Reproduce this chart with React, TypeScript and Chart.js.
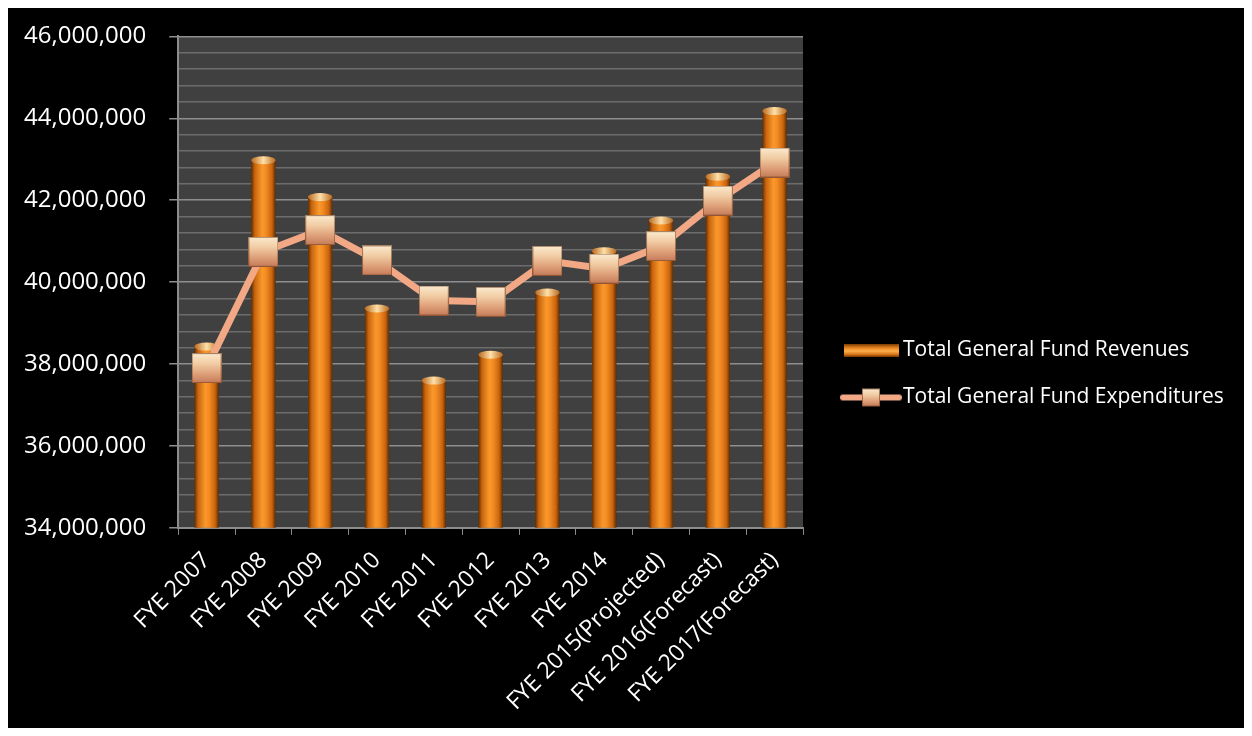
import React, { useEffect, useRef } from 'react';
import { Chart, registerables } from 'chart.js';
Chart.register(...registerables);

const categories = [
  'FYE 2007', 'FYE 2008', 'FYE 2009', 'FYE 2010', 'FYE 2011', 'FYE 2012',
  'FYE 2013', 'FYE 2014', 'FYE 2015(Projected)', 'FYE 2016(Forecast)', 'FYE 2017(Forecast)',
];
const revenues = [38450000, 43000000, 42100000, 39380000, 37620000, 38250000, 39770000, 40780000, 41530000, 42600000, 44200000];
const expenditures = [37900000, 40740000, 41270000, 40530000, 39550000, 39520000, 40520000, 40330000, 40880000, 41990000, 42920000];
const seriesNames = ['Total General Fund Revenues', 'Total General Fund Expenditures'];
const yMin = 34000000;
const yMax = 46000000;
const yMajorStep = 2000000;
const yMinorStep = 400000;

const FONT = "'Open Sans', sans-serif";
const LINE_COLOR = '#F2A884';

function makeMarker(size: number): HTMLCanvasElement {
  const c = document.createElement('canvas');
  c.width = size; c.height = size;
  const g = c.getContext('2d')!;
  const grad = g.createLinearGradient(0, 0, 0, size);
  grad.addColorStop(0, '#FCEBD0');
  grad.addColorStop(0.35, '#F1CCA4');
  grad.addColorStop(0.7, '#DE9F78');
  grad.addColorStop(1, '#C47A58');
  g.fillStyle = grad;
  g.fillRect(0, 0, size, size);
  g.strokeStyle = 'rgba(110,60,30,0.6)';
  g.lineWidth = 1;
  g.strokeRect(0.5, 0.5, size - 1, size - 1);
  return c;
}

function makeLegendLine(): HTMLCanvasElement {
  const c = document.createElement('canvas');
  c.width = 62; c.height = 20;
  const g = c.getContext('2d')!;
  g.strokeStyle = LINE_COLOR;
  g.lineWidth = 6;
  g.lineCap = 'round';
  g.beginPath();
  g.moveTo(3, 10); g.lineTo(59, 10);
  g.stroke();
  const m = makeMarker(18);
  g.drawImage(m, 22, 1);
  return c;
}

function makeLegendBar(): HTMLCanvasElement {
  const c = document.createElement('canvas');
  c.width = 55; c.height = 13;
  const g = c.getContext('2d')!;
  const grad = g.createLinearGradient(0, 0, 0, 13);
  grad.addColorStop(0, '#7A3C06');
  grad.addColorStop(0.3, '#E8861E');
  grad.addColorStop(0.55, '#FBB04E');
  grad.addColorStop(0.8, '#D87418');
  grad.addColorStop(1, '#6E3404');
  g.fillStyle = grad;
  g.fillRect(0, 0, 55, 13);
  return c;
}

const plotBg = {
  id: 'plotBg',
  beforeDraw(chart: any) {
    const { ctx, chartArea } = chart;
    if (!chartArea) return;
    ctx.save();
    ctx.fillStyle = '#404040';
    ctx.fillRect(chartArea.left, chartArea.top, chartArea.right - chartArea.left, chartArea.bottom - chartArea.top);
    ctx.restore();
  },
};

const barCaps = {
  id: 'barCaps',
  afterDatasetDraw(chart: any, args: any) {
    if (args.index !== 0) return;
    const meta = chart.getDatasetMeta(0);
    const ctx = chart.ctx;
    ctx.save();
    meta.data.forEach((el: any) => {
      const rx = el.width / 2;
      if (!isFinite(rx) || !isFinite(el.x) || !isFinite(el.y) || rx <= 0) return;
      const grad = ctx.createLinearGradient(el.x - rx, 0, el.x + rx, 0);
      grad.addColorStop(0, '#B86A20');
      grad.addColorStop(0.5, '#FFE0A8');
      grad.addColorStop(1, '#B86A20');
      ctx.fillStyle = grad;
      ctx.beginPath();
      ctx.ellipse(el.x, el.y + 1, rx, 4, 0, 0, Math.PI * 2);
      ctx.fill();
    });
    ctx.restore();
  },
};

function sideLegend(icons: HTMLCanvasElement[]) {
  return {
    id: 'sideLegend',
    afterDraw(chart: any) {
      const { ctx, chartArea } = chart;
      if (!chartArea) return;
      const iconX = chartArea.right + 37;
      const textX = iconX + 63;
      const spacing = 47;
      const cy = chart.height / 2 + 6 - spacing / 2;
      ctx.save();
      ctx.font = `21px ${FONT}`;
      ctx.fillStyle = '#FFFFFF';
      ctx.textBaseline = 'middle';
      ctx.textAlign = 'left';
      seriesNames.forEach((name, i) => {
        const y = cy + i * spacing;
        const icon = icons[i];
        ctx.drawImage(icon, iconX + (62 - icon.width) / 2, y - icon.height / 2);
        ctx.fillText(name, textX, y);
      });
      ctx.restore();
    },
  };
}

export default function App() {
  const ref = useRef<HTMLCanvasElement>(null);
  useEffect(() => {
    if (!ref.current) return;
    const marker = makeMarker(30);
    const legendLine = makeLegendLine();
    const legendBar = makeLegendBar();
    const n = categories.length;
    const barPct = 0.43;
    const chart = new Chart(ref.current, {
      type: 'bar',
      data: {
        labels: categories,
        datasets: [
          {
            type: 'bar',
            label: seriesNames[0],
            data: revenues,
            order: 1,
            barPercentage: barPct,
            categoryPercentage: 1,
            backgroundColor: (c: any) => {
              const xs = c.chart.scales && c.chart.scales.x;
              if (!xs || c.type !== 'data') return '#F28A1E';
              const x = xs.getPixelForValue(c.dataIndex);
              const half = (xs.width / n) * barPct / 2;
              if (!isFinite(x) || !isFinite(half) || half <= 0) return '#F28A1E';
              const g = c.chart.ctx.createLinearGradient(x - half, 0, x + half, 0);
              g.addColorStop(0, '#5E2E04');
              g.addColorStop(0.15, '#C9650E');
              g.addColorStop(0.45, '#F9982C');
              g.addColorStop(0.6, '#F48C22');
              g.addColorStop(0.85, '#C8640E');
              g.addColorStop(1, '#5A2C04');
              return g;
            },
            borderWidth: 0,
          } as any,
          {
            type: 'line',
            label: seriesNames[1],
            data: expenditures,
            order: 0,
            borderColor: LINE_COLOR,
            borderWidth: 7,
            pointStyle: marker as any,
            pointRadius: 15,
            pointHoverRadius: 15,
            tension: 0,
          } as any,
        ],
      },
      options: {
        animation: false,
        responsive: true,
        maintainAspectRatio: false,
        layout: { padding: { left: 2, top: 10, right: 441, bottom: 0 } },
        plugins: {
          tooltip: { enabled: false },
          legend: { display: false },
        },
        scales: {
          x: {
            offset: true,
            grid: {
              display: true,
              drawOnChartArea: false,
              drawTicks: true,
              tickLength: 7,
              color: '#8C8C8C',
            },
            border: { color: '#8C8C8C', width: 2 },
            ticks: {
              color: '#FFFFFF',
              font: { family: FONT, size: 23 },
              minRotation: 45,
              maxRotation: 45,
              autoSkip: false,
              padding: 12,
            },
          },
          y: {
            min: yMin,
            max: yMax,
            grid: {
              color: (c: any) => (Math.round(c.tick.value) % yMajorStep === 0 ? '#8E8E8E' : '#6C6C6C'),
              tickColor: (c: any) => (Math.round(c.tick.value) % yMajorStep === 0 ? '#8E8E8E' : 'rgba(0,0,0,0)'),
              lineWidth: 1.5,
              tickLength: 18,
              tickBorderDash: [0, 9, 9, 200],
            },
            border: { color: '#8C8C8C', width: 2 },
            ticks: {
              stepSize: yMinorStep,
              autoSkip: false,
              color: '#FFFFFF',
              font: { family: FONT, size: 24 },
              padding: 14,
              callback: (v: any) => (Math.round(v) % yMajorStep === 0 ? Number(v).toLocaleString('en-US') : ''),
            },
          },
        },
      },
      plugins: [plotBg, barCaps, sideLegend([legendBar, legendLine])],
    });
    return () => chart.destroy();
  }, []);
  return (
    <div style={{ width: 1236, height: 720, background: '#000000', position: 'relative' }}>
      <canvas ref={ref} />
    </div>
  );
}
